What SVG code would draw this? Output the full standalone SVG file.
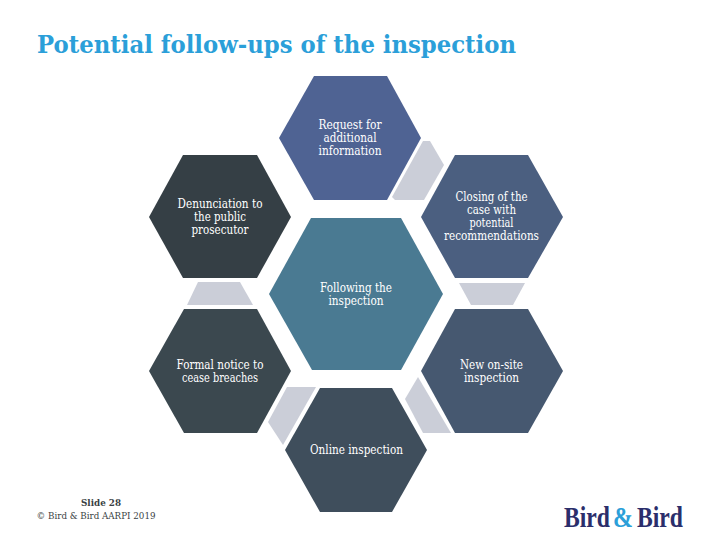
<svg xmlns="http://www.w3.org/2000/svg" width="720" height="540" viewBox="0 0 720 540">
<style>
.t{font-family:"DejaVu Serif","Liberation Serif",serif;font-size:12.5px;fill:#fff;text-anchor:middle}
.g{fill:#cbced8}
.l{font-family:"Liberation Serif",serif;font-weight:700;font-size:29px;fill:#2b2e6b}
</style>
<rect width="720" height="540" fill="#fff"/>
<text x="37" y="52.500" font-family="'DejaVu Serif',serif" font-weight="700" font-size="24" fill="#2b9fd9" textLength="479" lengthAdjust="spacingAndGlyphs">Potential follow-ups of the inspection</text>
<g id="connectors">
<polygon class="g" points="423,141 430,141 444,165 424,200 395,200 392,197"/>
<polygon class="g" points="459,283 525,283 513,305 471,305"/>
<polygon class="g" points="418,377 451,433 423,433 405,399"/>
<polygon class="g" points="287,387 316,387 283,445 268,422"/>
<polygon class="g" points="198,282 240,282 253,305 187,305"/>
</g>
<g id="node-request"><polygon fill="#4f6393" points="314,76 387,76 421,138 387,200 314,200 279,138"/>
<text class="t" x="350" y="129" textLength="63" lengthAdjust="spacingAndGlyphs">Request for</text><text class="t" x="350" y="142" textLength="53" lengthAdjust="spacingAndGlyphs">additional</text><text class="t" x="350" y="155" textLength="63" lengthAdjust="spacingAndGlyphs">information</text></g>
<g id="node-closing"><polygon fill="#4b5f80" points="455,155 528,155 563,217 528,278 455,278 421,217"/>
<text class="t" x="491.500" y="201" textLength="72" lengthAdjust="spacingAndGlyphs">Closing of the</text><text class="t" x="491.500" y="214" textLength="49" lengthAdjust="spacingAndGlyphs">case with</text><text class="t" x="491.500" y="227" textLength="44" lengthAdjust="spacingAndGlyphs">potential</text><text class="t" x="491.500" y="240" textLength="95" lengthAdjust="spacingAndGlyphs">recommendations</text></g>
<g id="node-denunciation"><polygon fill="#353f45" points="183,155 257,155 291,217 257,278 183,278 149,217"/>
<text class="t" x="220" y="208" textLength="85" lengthAdjust="spacingAndGlyphs">Denunciation to</text><text class="t" x="220" y="221" textLength="52" lengthAdjust="spacingAndGlyphs">the public</text><text class="t" x="220" y="234" textLength="57" lengthAdjust="spacingAndGlyphs">prosecutor</text></g>
<g id="node-center"><polygon fill="#4a7a92" points="311,218 401,218 443,294 401,370 312,370 269,294"/>
<text class="t" x="356" y="292" textLength="72" lengthAdjust="spacingAndGlyphs">Following the</text><text class="t" x="356" y="305" textLength="55" lengthAdjust="spacingAndGlyphs">inspection</text></g>
<g id="node-formal"><polygon fill="#3b484f" points="184,309 257,309 291,371 257,433 184,433 149,371"/>
<text class="t" x="220" y="369" textLength="87" lengthAdjust="spacingAndGlyphs">Formal notice to</text><text class="t" x="220" y="382" textLength="76" lengthAdjust="spacingAndGlyphs">cease breaches</text></g>
<g id="node-onsite"><polygon fill="#465870" points="455,309 528,309 563,371 528,433 455,433 421,371"/>
<text class="t" x="491.500" y="369" textLength="63" lengthAdjust="spacingAndGlyphs">New on-site</text><text class="t" x="491.500" y="382" textLength="55" lengthAdjust="spacingAndGlyphs">inspection</text></g>
<g id="node-online"><polygon fill="#3f4e5c" points="320,388 392,388 427,450 392,512 320,512 285,450"/>
<text class="t" x="356.500" y="454" textLength="93" lengthAdjust="spacingAndGlyphs">Online inspection</text></g>
<text x="101" y="506" font-family="'DejaVu Serif',serif" font-weight="700" font-size="10" fill="#3a3f44" text-anchor="middle" textLength="40" lengthAdjust="spacingAndGlyphs">Slide 28</text>
<text x="96" y="519" font-family="'DejaVu Serif',serif" font-size="9.500" fill="#3a3f44" text-anchor="middle" textLength="119" lengthAdjust="spacingAndGlyphs">© Bird &amp; Bird AARPI 2019</text>
<text class="l" x="564" y="527" textLength="46" lengthAdjust="spacingAndGlyphs">Bird</text>
<text class="l" x="613" y="527" textLength="20" lengthAdjust="spacingAndGlyphs" style="fill:#2b9fd9">&amp;</text>
<text class="l" x="637" y="527" textLength="46" lengthAdjust="spacingAndGlyphs">Bird</text>
</svg>
